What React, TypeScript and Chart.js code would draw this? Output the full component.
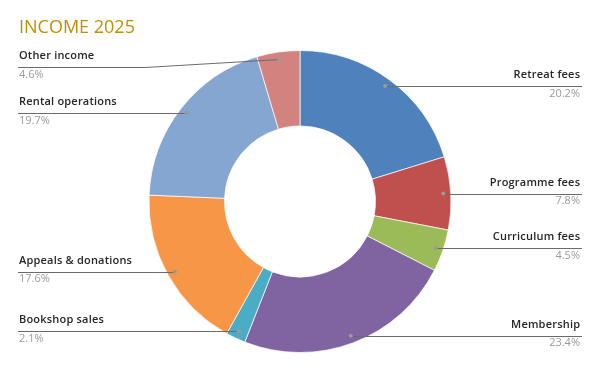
import React, { useEffect, useRef } from "react";
import { Chart, registerables } from "chart.js";

Chart.register(...registerables);

const title = "INCOME 2025";
const categories = [
  "Retreat fees",
  "Programme fees",
  "Curriculum fees",
  "Membership",
  "Bookshop sales",
  "Appeals & donations",
  "Rental operations",
  "Other income",
];
const shares = [20.2, 7.8, 4.5, 23.4, 2.1, 17.6, 19.7, 4.6];
const colors = [
  "#4F81BD",
  "#C0504D",
  "#9BBB59",
  "#8064A2",
  "#4BACC6",
  "#F79646",
  "#84A6D1",
  "#D3837F",
];

const FONT = "'Open Sans', 'DejaVu Sans', sans-serif";

const labelPlugin = {
  id: "outerLabels",
  afterDraw(chart: any) {
    const ctx = chart.ctx as CanvasRenderingContext2D;
    const W = chart.width;
    ctx.save();
    ctx.fillStyle = "#BF9000";
    ctx.font = `18px ${FONT}`;
    ctx.textBaseline = "middle";
    ctx.textAlign = "left";
    ctx.fillText(title, 19, 28);
    ctx.restore();

    const meta = chart.getDatasetMeta(0);
    meta.data.forEach((arc: any, i: number) => {
      const p = arc.getProps(["x", "y", "startAngle", "endAngle", "outerRadius"], true);
      const mid = (p.startAngle + p.endAngle) / 2;
      const r = p.outerRadius * 0.95;
      const px = p.x + Math.cos(mid) * r;
      const py = p.y + Math.sin(mid) * r;
      const right = Math.cos(mid) >= 0;
      const lineY = right ? py : Math.max(py, 67);
      ctx.save();
      ctx.strokeStyle = "#6b6b6b";
      ctx.lineWidth = 1;
      ctx.beginPath();
      if (right) {
        ctx.moveTo(px, Math.round(lineY) + 0.5);
        ctx.lineTo(W - 18, Math.round(lineY) + 0.5);
      } else {
        ctx.moveTo(18, Math.round(lineY) + 0.5);
        if (Math.abs(lineY - py) > 0.5) {
          ctx.lineTo(145, Math.round(lineY) + 0.5);
          ctx.lineTo(px, py);
        } else {
          ctx.lineTo(px, Math.round(lineY) + 0.5);
        }
      }
      ctx.stroke();
      ctx.fillStyle = "#9a9a9a";
      ctx.beginPath();
      ctx.arc(px, py, 2, 0, Math.PI * 2);
      ctx.fill();

      ctx.textBaseline = "middle";
      ctx.textAlign = right ? "right" : "left";
      const tx = right ? W - 20 : 19;
      (ctx as any).letterSpacing = "0.2px";
      ctx.fillStyle = "#262626";
      ctx.font = `600 11px ${FONT}`;
      ctx.fillText(categories[i], tx + (right ? 0.2 : 0), lineY - 11);
      (ctx as any).letterSpacing = "0px";
      ctx.fillStyle = "#9a9a9a";
      ctx.font = `11px ${FONT}`;
      ctx.fillText(shares[i].toFixed(1) + "%", tx, lineY + 7.5);
      ctx.restore();
    });
  },
};

export default function App() {
  const ref = useRef<HTMLCanvasElement | null>(null);
  useEffect(() => {
    if (!ref.current) return;
    const chart = new Chart(ref.current, {
      type: "doughnut",
      data: {
        labels: categories,
        datasets: [
          {
            data: shares,
            backgroundColor: colors,
            borderColor: "rgba(255,255,255,0.7)",
            borderWidth: 1,
          },
        ],
      },
      options: {
        responsive: false,
        animation: false,
        cutout: "50%",
        layout: { padding: { top: 50, bottom: 18, left: 0, right: 0 } },
        plugins: {
          legend: { display: false },
          tooltip: { enabled: false },
          title: { display: false },
        },
      },
      plugins: [labelPlugin],
    });
    return () => chart.destroy();
  }, []);
  return (
    <div style={{ position: "absolute", left: 0, top: 0, width: 600, height: 371, background: "#fff" }}>
      <canvas ref={ref} width={600} height={371} />
    </div>
  );
}
